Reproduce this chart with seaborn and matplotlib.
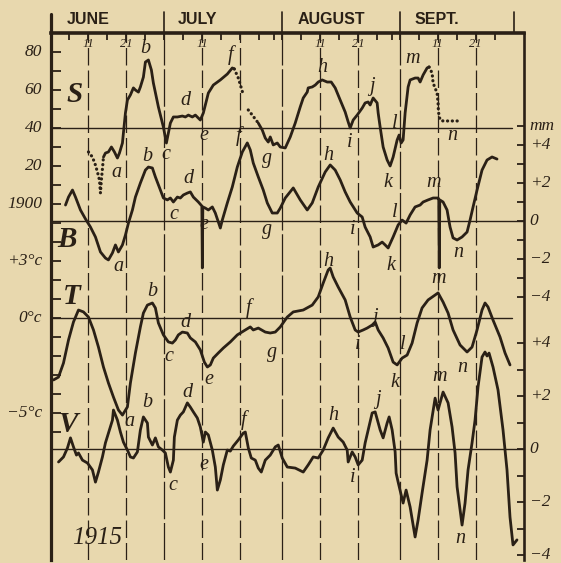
import matplotlib
matplotlib.use("Agg")
import matplotlib.pyplot as plt
import seaborn as sns

sns.set_theme(style="white")
plt.rcParams["font.family"] = ["Liberation Serif", "DejaVu Serif"]

INK = "#2a2016"
BG = "#e8d8ae"

# ------------------------------------------------------------------ data
# x = days after 1 June 1915 (0 = June 1)
month_labels = ["JUNE", "JULY", "AUGUST", "SEPT."]
month_label_days = [10.0, 38.7, 73.9, 101.8]
month_start_days = [30, 61, 92, 122]
top_tick_days = [0, 5, 10, 15, 20, 25, 30, 35, 40, 45, 50, 55, 59,
                 61, 66, 71, 76, 81, 86, 90, 92, 97, 102, 107, 112, 117]
grid_days = [10, 20, 40, 50, 71, 81, 102, 112]
day_label_days = [10, 20, 40, 71, 81, 102, 112]
day_label_text = ["11", "21", "11", "11", "21", "11", "21"]

# S  (left scale, 40 = reference line)
s_dot1_day = [10.0, 11.05, 11.84, 12.37, 12.9, 13.16, 13.4, 13.7, 13.95]
s_dot1_val = [27.4, 24.7, 20.5, 16.8, 12.6, 5.8, 12.6, 18.9, 24.7]
s_line1_day = [13.95, 14.47, 15.26, 16.05, 16.84, 17.63, 18.16, 18.95, 19.21, 19.74,
               20.26, 21.05, 21.84, 22.37, 23.16, 23.68, 24.47, 25.0, 25.79, 26.58,
               27.1, 28.42, 29.74, 30.53, 31.58, 32.37, 33.42, 34.74, 35.53, 36.32,
               37.37, 38.16, 39.47, 40.26, 41.58, 42.89, 44.74, 46.58, 47.89, 48.42]
s_line1_val = [24.7, 26.8, 27.4, 30.0, 27.4, 24.2, 26.8, 32.1, 37.4, 47.9,
               54.7, 57.4, 61.1, 60.0, 58.9, 61.6, 66.8, 74.7, 75.8, 70.5,
               63.7, 51.1, 40.5, 32.1, 42.6, 45.8, 45.8, 46.3, 45.8, 46.8,
               45.8, 46.8, 44.2, 47.9, 58.4, 62.6, 65.3, 68.4, 71.6, 71.1]
s_dot2_day = [48.42, 49.47, 50.26, 50.79]
s_dot2_val = [71.1, 66.3, 61.1, 57.4]
s_dot3_day = [52.1, 53.16, 53.95, 54.74]
s_dot3_val = [49.5, 46.8, 44.7, 42.6]
s_line2_day = [54.74, 55.79, 56.58, 57.37, 57.89, 58.68, 59.74, 60.53, 61.84, 63.16,
               64.47, 65.79, 66.58, 67.63, 67.89, 68.95, 69.74, 70.53, 71.58, 72.89,
               73.95, 75.0, 76.32, 77.63, 78.42, 78.95, 79.74, 80.79, 82.11, 82.89,
               83.68, 84.21, 85.0, 86.05, 86.32, 86.84, 87.63, 88.68, 89.47, 90.26,
               91.32, 91.84, 92.37, 92.89, 93.42, 94.21, 94.74, 96.05, 96.84, 97.37,
               98.16, 99.21, 99.74]
s_line2_val = [42.6, 38.9, 34.7, 32.6, 35.3, 31.1, 32.1, 30.0, 29.5, 35.3,
               42.6, 51.1, 55.8, 58.9, 61.1, 61.6, 62.6, 64.2, 65.3, 64.2,
               64.2, 61.1, 54.7, 48.4, 43.2, 40.0, 44.2, 46.8, 50.5, 53.2,
               53.7, 52.1, 55.8, 53.2, 47.9, 40.5, 30.0, 23.2, 20.0, 24.7,
               33.7, 36.3, 32.1, 33.7, 47.9, 61.6, 65.3, 66.3, 66.3, 64.2,
               67.9, 71.6, 72.1]
s_dot4_day = [99.74, 100.53, 100.79, 101.84, 102.1, 102.2, 102.63, 103.42, 107.37]
s_dot4_val = [72.1, 68.9, 63.7, 58.4, 53.2, 48.4, 44.2, 43.7, 43.7]

# B  (right scale, mm)
b_day = [3.95, 4.74, 5.79, 6.58, 7.89, 9.21, 10.53, 11.84, 13.16, 14.47,
         15.26, 16.32, 17.11, 17.89, 18.95, 19.74, 20.53, 21.58, 22.37, 23.68,
         25.0, 25.79, 26.84, 27.63, 28.95, 29.74, 30.79, 31.58, 32.37, 33.42,
         34.21, 35.0, 36.05, 36.84, 37.63, 38.95, 39.87, 40.0, 40.13, 40.79,
         41.58, 42.63, 43.42, 44.21, 44.74, 45.26, 46.58, 47.89, 49.21, 50.53,
         51.84, 52.63, 53.42, 54.74, 56.05, 57.11, 58.42, 59.74, 60.53, 61.84,
         63.95, 65.79, 67.63, 68.95, 70.53, 72.37, 73.68, 75.0, 76.32, 77.63,
         78.95, 80.79, 82.11, 82.89, 84.21, 85.0, 86.32, 87.37, 88.16, 88.95,
         90.26, 91.58, 92.63, 93.68, 94.74, 96.05, 97.37, 98.16, 99.47, 100.79,
         102.1, 102.28, 102.42, 102.55, 103.42, 104.47, 105.26, 106.05, 107.11, 108.42,
         109.74, 110.53, 111.32, 112.37, 113.68, 115.0, 116.32, 117.63]
b_val = [0.84, 1.26, 1.63, 1.26, 0.58, 0.11, -0.32, -0.84, -1.63, -1.95,
         -2.05, -1.68, -1.26, -1.63, -1.26, -0.74, -0.11, 0.58, 1.26, 2.0,
         2.68, 2.84, 2.79, 2.32, 1.63, 1.21, 1.11, 1.21, 1.0, 1.26,
         1.21, 1.37, 1.47, 1.53, 1.26, 1.0, 0.79, -2.47, 0.74, 0.68,
         0.58, 0.74, 0.42, -0.05, -0.37, 0.05, 0.95, 1.79, 2.84, 3.63,
         4.11, 3.74, 3.05, 2.32, 1.63, 0.95, 0.42, 0.42, 0.68, 1.21,
         1.74, 1.11, 0.58, 0.95, 1.79, 2.58, 2.95, 2.68, 2.16, 1.53,
         1.0, 0.42, 0.21, -0.32, -0.84, -1.37, -1.26, -1.11, -1.26, -1.42,
         -0.84, -0.21, 0.05, -0.11, 0.32, 0.74, 0.84, 1.0, 1.11, 1.21,
         1.21, 1.16, -2.47, 1.11, 1.0, 0.58, -0.32, -0.89, -1.0, -0.84,
         -0.58, 0.05, 0.74, 1.63, 2.68, 3.21, 3.37, 3.26]

# T  (left scale, deg C)
t_day = [0.79, 2.11, 3.42, 4.74, 6.05, 7.37, 8.68, 10.0, 11.32, 12.63,
         13.95, 15.26, 16.58, 17.89, 18.95, 20.26, 21.05, 22.37, 23.68, 24.47,
         25.53, 26.84, 27.63, 28.42, 29.74, 31.05, 32.11, 32.89, 33.68, 34.74,
         36.05, 36.84, 38.16, 39.47, 40.53, 41.32, 42.11, 42.89, 44.21, 45.53,
         47.37, 49.21, 51.32, 52.63, 53.42, 54.74, 56.58, 57.89, 59.21, 60.53,
         62.37, 63.95, 66.58, 68.95, 70.53, 71.84, 73.16, 73.68, 74.47, 75.79,
         77.63, 78.95, 80.26, 81.05, 82.37, 83.42, 84.74, 85.53, 86.32, 87.63,
         88.95, 90.26, 91.32, 92.63, 93.95, 95.26, 96.58, 97.89, 99.47, 101.32,
         102.1, 103.42, 104.74, 106.05, 107.89, 109.74, 111.05, 112.37, 113.68, 114.47,
         115.26, 116.58, 118.42, 119.74, 121.05]
t_val = [-3.26, -3.11, -2.37, -1.16, -0.21, 0.42, 0.32, 0.05, -0.63, -1.53,
         -2.58, -3.42, -4.16, -4.84, -5.11, -4.68, -3.42, -1.84, -0.47, 0.26,
         0.68, 0.79, 0.53, -0.26, -0.89, -1.26, -1.32, -1.16, -0.89, -0.74,
         -0.79, -1.05, -1.26, -1.68, -2.32, -2.58, -2.47, -2.11, -1.84, -1.58,
         -1.26, -0.89, -0.63, -0.47, -0.63, -0.53, -0.74, -0.79, -0.74, -0.47,
         0.05, 0.32, 0.42, 0.68, 1.11, 1.84, 2.53, 2.63, 2.16, 1.63,
         0.95, 0.05, -0.63, -0.74, -0.63, -0.53, -0.37, -0.21, -0.63, -1.05,
         -1.58, -2.32, -2.47, -2.11, -1.95, -1.32, -0.26, 0.53, 0.95, 1.21,
         1.32, 0.84, 0.26, -0.63, -1.42, -1.79, -1.53, -0.63, 0.42, 0.79,
         0.58, -0.11, -1.0, -1.84, -2.47]

# V  (right scale)
v_day = [2.11, 3.42, 4.47, 5.26, 6.05, 6.84, 7.37, 8.42, 9.74, 11.05,
         11.84, 12.63, 13.68, 14.47, 15.26, 16.32, 16.58, 17.63, 18.42, 19.21,
         20.26, 21.05, 21.84, 22.89, 23.68, 24.47, 25.53, 25.79, 26.84, 27.63,
         28.42, 29.47, 30.26, 31.05, 31.58, 32.37, 32.63, 33.42, 34.21, 35.0,
         36.05, 36.84, 37.63, 38.68, 39.47, 40.26, 40.79, 41.58, 42.63, 43.42,
         43.95, 44.74, 45.53, 46.58, 47.37, 48.16, 49.47, 50.79, 51.32, 52.11,
         52.89, 53.95, 54.74, 55.53, 56.58, 57.89, 59.21, 60.0, 61.05, 62.37,
         64.47, 66.58, 67.89, 69.21, 70.53, 71.84, 73.16, 74.47, 75.79, 77.11,
         78.16, 78.42, 79.47, 80.26, 81.05, 82.11, 82.89, 83.68, 84.74, 85.53,
         86.84, 87.63, 88.68, 89.21, 90.0, 90.79, 91.05, 91.58, 92.89, 93.68,
         94.74, 96.05, 96.84, 97.89, 99.21, 100.0, 101.32, 102.1, 103.42, 104.74,
         105.79, 106.58, 107.11, 108.42, 109.21, 110.0, 111.05, 111.84, 112.63, 113.68,
         114.47, 115.0, 115.53, 116.58, 117.89, 119.21, 120.26, 121.05, 121.84, 122.89]
v_val = [-0.49, -0.30, 0.04, 0.42, 0.08, -0.23, -0.15, -0.42, -0.53, -0.79,
         -1.25, -0.87, -0.30, 0.23, 0.60, 1.09, 1.47, 1.09, 0.64, 0.26,
         -0.04, -0.30, -0.34, -0.11, 0.72, 1.21, 0.98, 0.45, 0.15, 0.42,
         0.08, -0.04, -0.15, -0.68, -0.87, -0.42, 0.45, 1.09, 1.28, 1.40,
         1.74, 1.58, 1.40, 1.17, 0.83, 0.26, 0.64, 0.53, -0.04, -0.68,
         -1.55, -1.17, -0.60, -0.04, -0.08, 0.11, 0.34, 0.60, 0.64, 0.04,
         -0.34, -0.42, -0.72, -0.87, -0.42, -0.23, 0.08, 0.15, -0.34, -0.68,
         -0.72, -0.87, -0.60, -0.30, -0.34, -0.04, 0.42, 0.79, 0.45, 0.26,
         -0.04, -0.49, -0.11, -0.30, -0.60, -0.42, 0.23, 0.72, 1.36, 1.40,
         0.72, 0.42, 0.98, 1.21, 0.72, -0.11, -0.91, -1.25, -2.04, -1.55,
         -2.19, -3.32, -2.68, -1.66, -0.42, 0.72, 1.92, 1.47, 2.15, 1.74,
         0.83, -0.15, -1.43, -2.87, -2.04, -0.79, 0.23, 1.09, 2.34, 3.47,
         3.66, 3.51, 3.62, 3.09, 2.23, 0.72, -0.79, -2.57, -3.62, -3.43]

# letter annotations (letter, day, value in the series' own units)
s_letters = [("a", 17.4, 16.8), ("b", 25.0, 82.1), ("c", 30.5, 25.8), ("d", 35.5, 54.7),
             ("e", 40.5, 36.3), ("f", 47.4, 78.4), ("g", 57.1, 24.2), ("h", 71.6, 71.6),
             ("i", 78.9, 32.6), ("j", 84.7, 61.6), ("k", 88.9, 11.1), ("l", 90.8, 42.6),
             ("m", 95.3, 76.8), ("n", 105.8, 36.3)]
b_letters = [("a", 17.9, -2.42), ("b", 25.5, 3.37), ("c", 32.4, 0.32), ("d", 36.3, 2.26),
             ("e", 40.3, -0.21), ("f", 49.6, 4.47), ("g", 57.1, -0.47), ("h", 73.2, 3.47),
             ("i", 79.5, -0.47), ("k", 89.7, -2.32), ("l", 90.8, 0.47), ("m", 100.8, 2.05),
             ("n", 107.4, -1.68)]
t_letters = [("a", 20.8, -5.47), ("b", 26.8, 1.37), ("c", 31.1, -2.05), ("d", 35.5, -0.26),
             ("e", 41.6, -3.26), ("f", 52.1, 0.53), ("g", 58.4, -1.79), ("h", 73.2, 2.95),
             ("i", 80.8, -1.42), ("j", 85.5, 0.05), ("k", 90.8, -3.37), ("l", 92.9, -1.42),
             ("m", 102.1, 2.1), ("n", 108.4, -2.58)]
v_letters = [("b", 25.5, 1.74), ("c", 32.1, -1.36), ("d", 36.1, 2.15), ("e", 40.5, -0.57),
             ("f", 50.8, 1.09), ("h", 74.5, 1.28), ("i", 79.7, -1.09), ("j", 86.3, 1.85),
             ("m", 102.6, 2.72), ("n", 107.9, -3.36)]

# axis labels
s_tick_vals = [80, 70, 60, 50, 40, 30, 20, 10]
s_tick_labels = {80: "80", 60: "60", 40: "40", 20: "20"}
t_tick_vals = [6, 5, 4, 3, 2, 1, 0, -1, -2, -3, -4, -5, -6]
t_tick_labels = {6: "1900", 3: "+3°c", 0: "0°c", -5: "−5°c"}
b_tick_vals = [5, 4, 3, 2, 1, 0, -1, -2, -3, -4]
b_tick_labels = {5: "mm", 4: "+4", 2: "+2", 0: "0", -2: "−2", -4: "−4"}
v_tick_vals = [4, 3, 2, 1, 0, -1, -2, -3, -4]
v_tick_labels = {4: "+4", 2: "+2", 0: "0", -2: "−2", -4: "−4"}

# ------------------------------------------------------------------ layout
W, H = 561, 563
LPX, RPX, TPX, BPX = 50.5, 524, 33, 560
PX_PER_DAY = 3.8
DAY0_PX = 50


def ylims(v0, p0, k):
    return (v0 - (BPX - p0) / k, v0 + (p0 - TPX) / k)


fig = plt.figure(figsize=(W / 100, H / 100), dpi=100, facecolor=BG)
ax = fig.add_axes([LPX / W, 1 - BPX / H, (RPX - LPX) / W, (BPX - TPX) / H])
ax.set_facecolor(BG)
ax.set_xlim((LPX - DAY0_PX) / PX_PER_DAY, (RPX - DAY0_PX) / PX_PER_DAY)
ax.set_ylim(0, 1)

ax_s = ax.twinx()
ax_b = ax.twinx()
ax_t = ax.twinx()
ax_v = ax.twinx()
ax_s.set_ylim(*ylims(40, 128, 1.9))
ax_b.set_ylim(*ylims(0, 221, 19))
ax_t.set_ylim(*ylims(0, 318, 19))
ax_v.set_ylim(*ylims(0, 449, 26.5))
for a in (ax_s, ax_b, ax_t, ax_v):
    for sp in a.spines.values():
        sp.set_visible(False)
ax_s.yaxis.tick_left()
ax_t.yaxis.tick_left()

# frame
for side, lw in (("left", 2.3), ("top", 2.6), ("right", 1.9)):
    ax.spines[side].set_visible(True)
    ax.spines[side].set_color(INK)
    ax.spines[side].set_linewidth(lw)
ax.spines["bottom"].set_visible(False)
ax.set_yticks([])
ax.xaxis.tick_top()
ax.set_xticks(top_tick_days)
ax.set_xticklabels([])
ax.tick_params(axis="x", direction="in", length=5, width=1.3, color=INK, top=True, bottom=False)

# vertical guide lines
for d in grid_days:
    ax.axvline(d, color=INK, lw=0.9, linestyle=(0, (14, 4)), zorder=1)
for d in month_start_days[:-1]:
    ax.axvline(d, color=INK, lw=0.9, linestyle=(0, (30, 3)), zorder=1)
for d in month_start_days:
    ax.axvline(d, ymin=1.0, ymax=(BPX - 12) / (BPX - TPX), color=INK, lw=1.2, clip_on=False)
ax.axvline(ax.get_xlim()[0], ymin=1.0, ymax=(BPX - 14) / (BPX - TPX), color=INK, lw=2.3, clip_on=False)

# baselines
xmax_short = (512 - LPX) / (RPX - LPX)
ax_s.axhline(40, xmax=xmax_short, color=INK, lw=1.0)
ax_b.axhline(0, color=INK, lw=1.0)
ax_t.axhline(0, xmax=xmax_short, color=INK, lw=1.0)
ax_v.axhline(0, color=INK, lw=1.0)

# curves
solid = dict(color=INK, lw=2.0, sort=False, estimator=None, legend=False)
dotted = dict(color=INK, lw=2.3, sort=False, estimator=None, legend=False,
              linestyle=(0, (0.05, 1.45)), dash_capstyle="round")
sns.lineplot(x=s_line1_day, y=s_line1_val, ax=ax_s, **solid)
sns.lineplot(x=s_line2_day, y=s_line2_val, ax=ax_s, **solid)
for dd, vv in ((s_dot1_day, s_dot1_val), (s_dot2_day, s_dot2_val),
               (s_dot3_day, s_dot3_val), (s_dot4_day, s_dot4_val)):
    sns.lineplot(x=dd, y=vv, ax=ax_s, **dotted)
sns.lineplot(x=b_day, y=b_val, ax=ax_b, **solid)
sns.lineplot(x=t_day, y=t_val, ax=ax_t, **solid)
sns.lineplot(x=v_day, y=v_val, ax=ax_v, **solid)

# ticks on the scales
tick_kw = dict(direction="in", width=1.3, color=INK, labelleft=False, labelright=False)
ax_s.set_yticks(s_tick_vals)
ax_s.tick_params(axis="y", length=7, **tick_kw)
ax_t.set_yticks(t_tick_vals)
ax_t.tick_params(axis="y", length=7, **tick_kw)
ax_b.set_yticks(b_tick_vals)
ax_b.tick_params(axis="y", length=5, **tick_kw)
ax_v.set_yticks(v_tick_vals)
ax_v.tick_params(axis="y", length=5, **tick_kw)

lab_font = dict(family=["Liberation Serif", "DejaVu Serif"], style="italic", fontsize=12.5, color=INK)
for a, labels, side in ((ax_s, s_tick_labels, 0), (ax_t, t_tick_labels, 0),
                        (ax_b, b_tick_labels, 1), (ax_v, v_tick_labels, 1)):
    for v, s in labels.items():
        if side == 0:
            a.annotate(s, xy=(0, v), xycoords=("axes fraction", "data"), xytext=(-6, 0),
                       textcoords="offset points", ha="right", va="center", **lab_font)
        else:
            a.annotate(s, xy=(1, v), xycoords=("axes fraction", "data"), xytext=(4, 0),
                       textcoords="offset points", ha="left", va="center", **lab_font)

# month names and day numbers
for name, d in zip(month_labels, month_label_days):
    ax.text(d, (BPX - 19) / (BPX - TPX), name, transform=ax.get_xaxis_transform(),
            ha="center", va="center", fontsize=11.5, fontweight="bold",
            family=["Liberation Sans Narrow", "Liberation Sans", "DejaVu Sans"], color=INK, clip_on=False)
for d, s in zip(day_label_days, day_label_text):
    ax.text(d, (BPX - 44) / (BPX - TPX), s, transform=ax.get_xaxis_transform(),
            ha="center", va="center", fontsize=9, style="italic",
            family=["Liberation Serif", "DejaVu Serif"], color=INK)

# letters on curves
let_font = dict(family=["Liberation Serif", "DejaVu Serif"], style="italic", fontsize=14.5,
                color=INK, ha="center", va="center")
for a, letters in ((ax_s, s_letters), (ax_b, b_letters), (ax_t, t_letters), (ax_v, v_letters)):
    for s, d, v in letters:
        a.text(d, v, s, **let_font)

# series names and year
big = dict(family=["Liberation Serif", "DejaVu Serif"], style="italic", fontweight="bold",
           fontsize=21, color=INK, ha="center", va="center")
fig.text(75 / W, 1 - 94 / H, "S", **big)
fig.text(67 / W, 1 - 240 / H, "B", **big)
fig.text(72 / W, 1 - 296 / H, "T", **big)
fig.text(68 / W, 1 - 424 / H, "V", **big)
fig.text(97 / W, 1 - 538 / H, "1915", family=["Liberation Serif", "DejaVu Serif"],
         style="italic", fontsize=18, color=INK, ha="center", va="center")

fig.savefig("out.png", dpi=100, facecolor=BG)
